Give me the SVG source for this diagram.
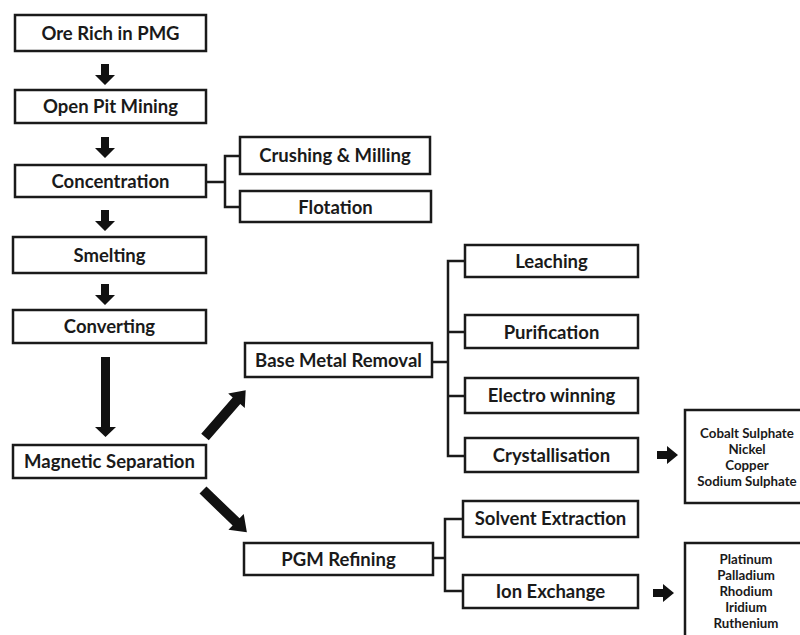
<svg xmlns="http://www.w3.org/2000/svg" width="800" height="635" viewBox="0 0 800 635">
<style>
.box{fill:#fff;stroke:#1a1a1a;stroke-width:2.5}
.t{font-family:Lato,"Open Sans","Liberation Sans",sans-serif;font-weight:bold;font-size:18.5px;fill:#1a1a1a;text-anchor:middle}
.s{font-family:Lato,"Open Sans","Liberation Sans",sans-serif;font-weight:bold;font-size:13.3px;fill:#1a1a1a;text-anchor:middle}
.ln{fill:none;stroke:#1a1a1a;stroke-width:2.5}
.ar{fill:#111}
</style>
<rect width="800" height="635" fill="#fff"/>
<g id="connectors">
<polygon class="ar" points="101,64 109,64 109,75 115,75 105,85 95,75 101,75"/>
<polygon class="ar" points="101,137 109,137 109,148 115,148 105,158 95,148 101,148"/>
<polygon class="ar" points="101,210 109,210 109,221 115,221 105,231 95,221 101,221"/>
<polygon class="ar" points="101,284 109,284 109,295 115,295 105,305 95,295 101,295"/>
<polygon class="ar" points="101,357 110,357 110,427 116,427 105.5,437 95,427 101,427"/>
<g transform="translate(205,437) rotate(-49)"><polygon class="ar" points="0,-5 48,-5 48,-11 62,0 48,11 48,5 0,5"/></g>
<g transform="translate(203,490) rotate(44)"><polygon class="ar" points="0,-5 46,-5 46,-11 61,0 46,11 46,5 0,5"/></g>
<polygon class="ar" points="657,451 667,451 667,446 678,455 667,464 667,459 657,459"/>
<polygon class="ar" points="653,589 663,589 663,584 674,593 663,602 663,597 653,597"/>
<path class="ln" d="M206,182 H225 M240,156 H225 V207 H240"/>
<path class="ln" d="M432,362 H448 M465,261 H448 V456 H465 M448,332 H465 M448,396 H465"/>
<path class="ln" d="M433,558 H445 M463,519 H445 V591 H463"/>
</g>
<g id="ore"><rect class="box" x="15" y="15" width="191" height="36"/><text class="t" x="110.5" y="40">Ore Rich in PMG</text></g>
<g id="openpit"><rect class="box" x="15" y="90" width="191" height="33"/><text class="t" x="110.5" y="113">Open Pit Mining</text></g>
<g id="concentration"><rect class="box" x="15" y="165" width="191" height="32"/><text class="t" x="110.5" y="188">Concentration</text></g>
<g id="crushing"><rect class="box" x="240" y="137" width="190" height="37"/><text class="t" x="335" y="162">Crushing &amp; Milling</text></g>
<g id="flotation"><rect class="box" x="240" y="191" width="191" height="31"/><text class="t" x="335.5" y="214">Flotation</text></g>
<g id="smelting"><rect class="box" x="13" y="237" width="193" height="36"/><text class="t" x="109.5" y="262">Smelting</text></g>
<g id="converting"><rect class="box" x="13" y="310" width="193" height="33"/><text class="t" x="109.5" y="333">Converting</text></g>
<g id="magnetic"><rect class="box" x="13" y="445" width="193" height="33"/><text class="t" x="109.5" y="468">Magnetic Separation</text></g>
<g id="basemetal"><rect class="box" x="245" y="343" width="187" height="34"/><text class="t" x="338.5" y="367">Base Metal Removal</text></g>
<g id="leaching"><rect class="box" x="465" y="245" width="173" height="32"/><text class="t" x="551.5" y="268">Leaching</text></g>
<g id="purification"><rect class="box" x="465" y="315" width="173" height="33"/><text class="t" x="551.5" y="339">Purification</text></g>
<g id="electro"><rect class="box" x="465" y="378" width="173" height="35"/><text class="t" x="551.5" y="402">Electro winning</text></g>
<g id="crystallisation"><rect class="box" x="465" y="438" width="173" height="34"/><text class="t" x="551.5" y="462">Crystallisation</text></g>
<g id="pgm"><rect class="box" x="244" y="543" width="189" height="32"/><text class="t" x="338.5" y="566">PGM Refining</text></g>
<g id="solvent"><rect class="box" x="463" y="501" width="175" height="36"/><text class="t" x="550.5" y="525">Solvent Extraction</text></g>
<g id="ion"><rect class="box" x="463" y="575" width="175" height="33"/><text class="t" x="550.5" y="598">Ion Exchange</text></g>
<g id="products1"><rect class="box" x="685" y="410" width="120" height="93"/>
<text class="s" x="747" y="438">Cobalt Sulphate</text><text class="s" x="747" y="454">Nickel</text><text class="s" x="747" y="470">Copper</text><text class="s" x="747" y="486">Sodium Sulphate</text></g>
<g id="products2"><rect class="box" x="685" y="543" width="120" height="100"/>
<text class="s" x="746" y="564">Platinum</text><text class="s" x="746" y="580">Palladium</text><text class="s" x="746" y="596">Rhodium</text><text class="s" x="746" y="612">Iridium</text><text class="s" x="746" y="628">Ruthenium</text></g>
</svg>
